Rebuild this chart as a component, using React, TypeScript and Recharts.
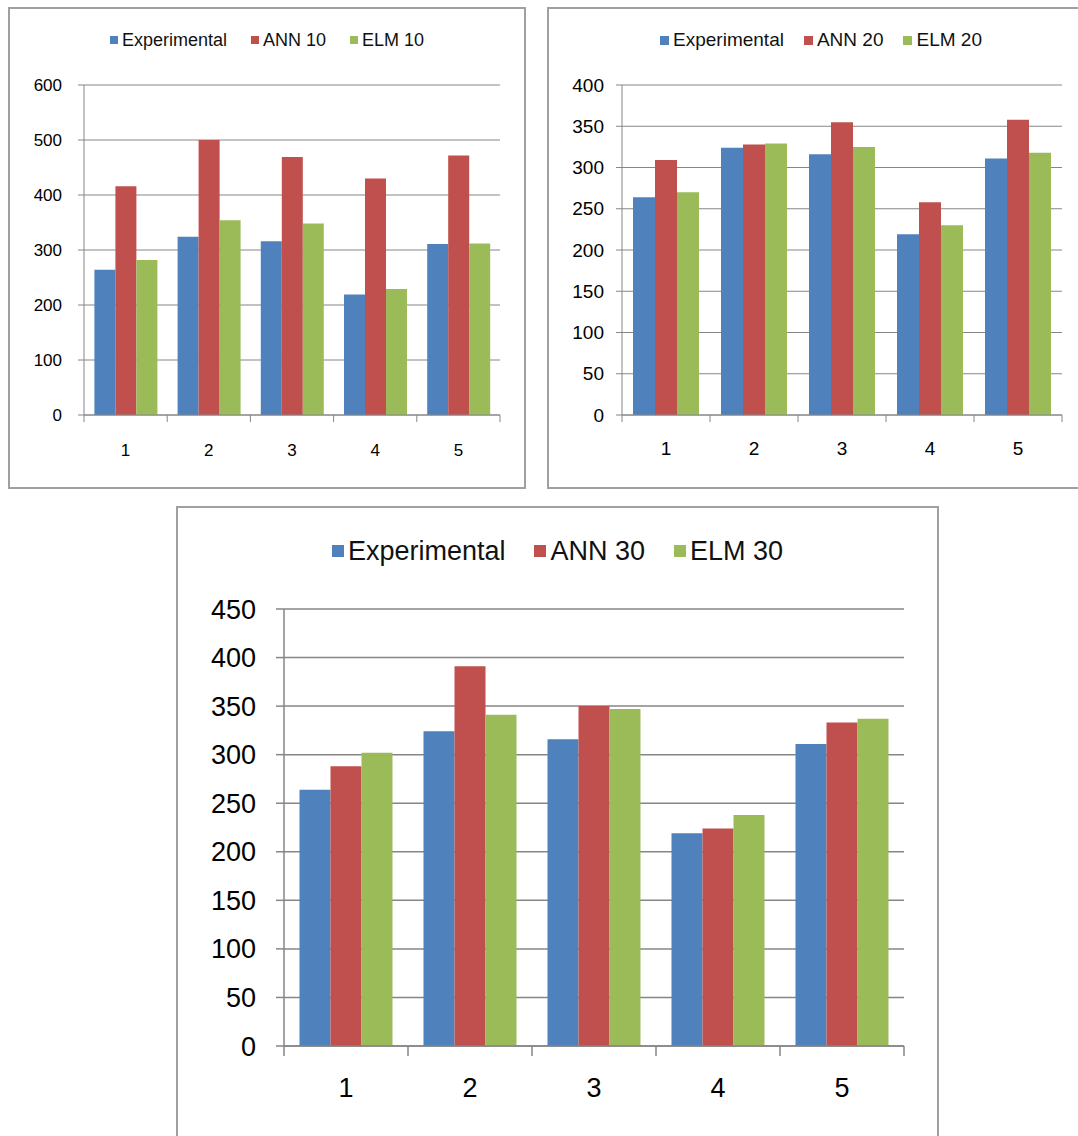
import React from 'react'
import { BarChart, Bar, XAxis, YAxis, CartesianGrid } from 'recharts'

const categories = ['1', '2', '3', '4', '5']
const experimental = [264, 324, 316, 219, 311]
const ann10 = [416, 500, 469, 430, 472]
const elm10 = [282, 354, 348, 229, 312]
const ann20 = [309, 328, 355, 258, 358]
const elm20 = [270, 329, 325, 230, 318]
const ann30 = [288, 391, 350, 224, 333]
const elm30 = [302, 341, 347, 238, 337]

const ticks10 = [0, 100, 200, 300, 400, 500, 600]
const ticks20 = [0, 50, 100, 150, 200, 250, 300, 350, 400]
const ticks30 = [0, 50, 100, 150, 200, 250, 300, 350, 400, 450]

const BLUE = '#4F81BD'
const RED = '#C0504D'
const GREEN = '#9BBB59'
const LINE = '#868686'
const FONT = '"Liberation Sans", Arial, sans-serif'

interface Box {
  left: number
  top: number
  width: number
  height: number
}

interface PanelProps {
  ann: number[]
  elm: number[]
  annName: string
  elmName: string
  yTicks: number[]
  frame: Box
  plot: { left: number; top: number; right: number; bottom: number }
  tickFont: number
  legendFont: number
  legendY: number
  legendGap: number
  marker: number
  yAxisWidth: number
  yTickSize: number
  yTickMargin: number
  xLabelOffset: number
  xTickLen: number
  stroke: number
}

const makeXTick = (bw: number, p: PanelProps) => (props: any) => {
  const { x, y, payload, index } = props
  const last = index === categories.length - 1
  return (
    <g>
      <line x1={x - bw / 2} x2={x - bw / 2} y1={y} y2={y + p.xTickLen} stroke={LINE} strokeWidth={p.stroke} />
      {last && (
        <line x1={x + bw / 2} x2={x + bw / 2} y1={y} y2={y + p.xTickLen} stroke={LINE} strokeWidth={p.stroke} />
      )}
      <text
        x={x}
        y={y + p.xLabelOffset}
        textAnchor="middle"
        dominantBaseline="central"
        fontSize={p.tickFont}
        fontFamily={FONT}
        fill="#000"
      >
        {payload.value}
      </text>
    </g>
  )
}

function Panel(p: PanelProps) {
  const data = categories.map((c, i) => ({ name: c, exp: experimental[i], ann: p.ann[i], elm: p.elm[i] }))
  const { frame, plot } = p
  const xAxisHeight = 50
  const margin = {
    top: plot.top - frame.top,
    right: frame.left + frame.width - plot.right,
    left: plot.left - frame.left - p.yAxisWidth,
    bottom: frame.top + frame.height - plot.bottom - xAxisHeight,
  }
  const bw = (plot.right - plot.left) / categories.length
  const legend = [
    { name: 'Experimental', color: BLUE },
    { name: p.annName, color: RED },
    { name: p.elmName, color: GREEN },
  ]

  return (
    <>
      <div
        style={{
          position: 'absolute',
          left: frame.left,
          top: frame.top,
          width: frame.width,
          height: frame.height,
          border: '2px solid #a0a0a0',
          boxSizing: 'border-box',
        }}
      />
      <div
        style={{
          position: 'absolute',
          left: frame.left,
          top: p.legendY - p.legendFont,
          width: frame.width,
          height: p.legendFont * 2,
          display: 'flex',
          justifyContent: 'center',
          alignItems: 'center',
          fontSize: p.legendFont,
          color: '#111',
        }}
      >
        {legend.map((item, i) => (
          <div key={item.name} style={{ display: 'flex', alignItems: 'center', marginLeft: i === 0 ? 0 : p.legendGap }}>
            <span
              style={{
                display: 'inline-block',
                width: p.marker,
                height: p.marker,
                background: item.color,
                marginRight: 4,
              }}
            />
            <span>{item.name}</span>
          </div>
        ))}
      </div>
      <div style={{ position: 'absolute', left: frame.left, top: frame.top }}>
        <BarChart
          width={frame.width}
          height={frame.height}
          data={data}
          margin={margin}
          barCategoryGap="12.5%"
          barGap={0}
        >
          <CartesianGrid vertical={false} stroke={LINE} strokeWidth={p.stroke} />
          <XAxis
            dataKey="name"
            height={xAxisHeight}
            interval={0}
            axisLine={{ stroke: LINE, strokeWidth: p.stroke }}
            tickLine={false}
            tickSize={0}
            tickMargin={0}
            tick={makeXTick(bw, p)}
          />
          <YAxis
            width={p.yAxisWidth}
            domain={[p.yTicks[0], p.yTicks[p.yTicks.length - 1]]}
            ticks={p.yTicks}
            interval={0}
            axisLine={{ stroke: LINE, strokeWidth: p.stroke }}
            tickLine={{ stroke: LINE, strokeWidth: p.stroke }}
            tickSize={p.yTickSize}
            tickMargin={p.yTickMargin}
            tick={{ fill: '#000', fontSize: p.tickFont, fontFamily: FONT }}
          />
          <Bar dataKey="exp" name="Experimental" fill={BLUE} isAnimationActive={false} />
          <Bar dataKey="ann" name={p.annName} fill={RED} isAnimationActive={false} />
          <Bar dataKey="elm" name={p.elmName} fill={GREEN} isAnimationActive={false} />
        </BarChart>
      </div>
    </>
  )
}

export default function App() {
  return (
    <div
      style={{
        position: 'absolute',
        left: 0,
        top: 0,
        width: 1078,
        height: 1136,
        overflow: 'hidden',
        background: '#fff',
        fontFamily: FONT,
      }}
    >
      <Panel
        ann={ann10}
        elm={elm10}
        annName="ANN 10"
        elmName="ELM 10"
        yTicks={ticks10}
        frame={{ left: 8, top: 7, width: 518, height: 482 }}
        plot={{ left: 84, top: 85, right: 500, bottom: 415 }}
        tickFont={17}
        legendFont={18}
        legendY={40}
        legendGap={24}
        marker={8}
        yAxisWidth={40}
        yTickSize={6}
        yTickMargin={16}
        xLabelOffset={35}
        xTickLen={7}
        stroke={1}
      />
      <Panel
        ann={ann20}
        elm={elm20}
        annName="ANN 20"
        elmName="ELM 20"
        yTicks={ticks20}
        frame={{ left: 547, top: 7, width: 548, height: 482 }}
        plot={{ left: 622, top: 85, right: 1062, bottom: 415 }}
        tickFont={19}
        legendFont={19}
        legendY={40}
        legendGap={20}
        marker={9}
        yAxisWidth={40}
        yTickSize={6}
        yTickMargin={12}
        xLabelOffset={33}
        xTickLen={7}
        stroke={1}
      />
      <Panel
        ann={ann30}
        elm={elm30}
        annName="ANN 30"
        elmName="ELM 30"
        yTicks={ticks30}
        frame={{ left: 176, top: 506, width: 763, height: 640 }}
        plot={{ left: 284, top: 609, right: 904, bottom: 1046 }}
        tickFont={27}
        legendFont={27}
        legendY={551}
        legendGap={29}
        marker={12}
        yAxisWidth={80}
        yTickSize={8}
        yTickMargin={20}
        xLabelOffset={42}
        xTickLen={10}
        stroke={1.5}
      />
    </div>
  )
}
